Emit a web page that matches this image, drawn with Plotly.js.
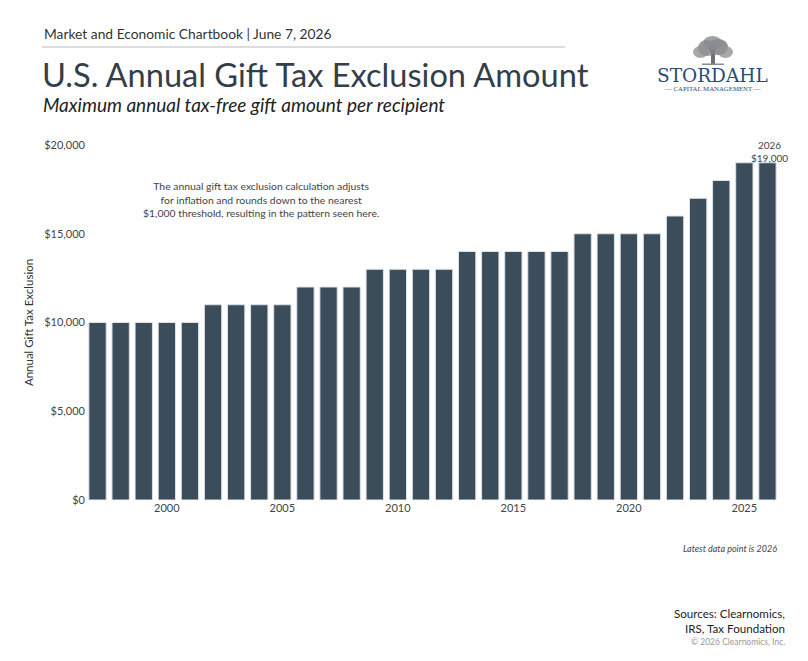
<!DOCTYPE html>
<html>
<head>
<meta charset="utf-8">
<script src="https://cdn.plot.ly/plotly-3.0.1.min.js"></script>
<style>html,body{margin:0;padding:0;background:#fff;}#chart{width:808px;height:661px;}</style>
</head>
<body>
<div id="chart"></div>
<script>
const years = [1997,1998,1999,2000,2001,2002,2003,2004,2005,2006,2007,2008,2009,2010,2011,2012,2013,2014,2015,2016,2017,2018,2019,2020,2021,2022,2023,2024,2025,2026];
const exclusion = [10000,10000,10000,10000,10000,11000,11000,11000,11000,12000,12000,12000,13000,13000,13000,13000,14000,14000,14000,14000,14000,15000,15000,15000,15000,16000,17000,18000,19000,19000];
const yTicks = [0,5000,10000,15000,20000];
const yTickLabels = ['$0','$5,000','$10,000','$15,000','$20,000'];
const xTicks = [2000,2005,2010,2015,2020,2025];

const W = 808, H = 661;
const L = 86, R = 779, T = 145, B = 500;
const px = x => (x - L) / (R - L);
const py = y => (B - y) / (B - T);
const FONT = 'Lato, "Source Sans Pro", "Noto Sans", sans-serif';

const trace = {
  type: 'bar',
  x: years,
  y: exclusion,
  marker: {color: '#3b4c5b', line: {color: '#dde2e7', width: 1}},
  hoverinfo: 'x+y'
};

function ann(text, x, y, opts) {
  return Object.assign({text: text, x: px(x), y: py(y), xref: 'paper', yref: 'paper', showarrow: false,
    xanchor: 'left', yanchor: 'middle', font: {family: FONT, size: 12, color: '#333'}}, opts || {});
}

const annotations = [
  ann('Market and Economic Chartbook | June 7, 2026', 42, 34, {font: {family: FONT, size: 13.8, color: '#333'}}),
  ann('U.S. Annual Gift Tax Exclusion Amount', 40, 74, {font: {family: FONT, size: 32.6, color: '#343e48', weight: 400}}),
  ann('<i>Maximum annual tax-free gift amount per recipient</i>', 41, 105, {font: {family: FONT, size: 19, color: '#222', weight: 400}}),
  ann('STORDAHL', 712, 75, {xanchor: 'center', font: {family: '"DejaVu Serif", "Liberation Serif", serif', size: 18.5, color: '#2c4a7c'}}),
  ann('— CAPITAL MANAGEMENT —', 712, 88, {xanchor: 'center', font: {family: '"Liberation Serif", serif', size: 6.8, color: '#2c4a7c'}}),
  ann('The annual gift tax exclusion calculation adjusts<br>for inflation and rounds down to the nearest<br>$1,000 threshold, resulting in the pattern seen here.', 261, 199, {xanchor: 'center', align: 'center', font: {family: FONT, size: 10.4, color: '#444'}}),
  ann('2026<br>$19,000', 769, 151, {xanchor: 'center', align: 'center', font: {family: FONT, size: 10, color: '#444'}}),
  ann('<i>Latest data point is 2026</i>', 779, 548, {xanchor: 'right', font: {family: FONT, size: 9, color: '#444'}}),
  ann('Sources: Clearnomics,', 787, 613, {xanchor: 'right', font: {family: FONT, size: 11.6, color: '#222'}}),
  ann('IRS, Tax Foundation', 787, 628, {xanchor: 'right', font: {family: FONT, size: 11.6, color: '#222'}}),
  ann('© 2026 Clearnomics, Inc.', 787, 642, {xanchor: 'right', font: {family: FONT, size: 8.5, color: '#999'}})
];

const shapes = [
  {type: 'line', xref: 'paper', yref: 'paper', x0: px(42), x1: px(565), y0: py(47), y1: py(47), line: {color: '#b5b9bd', width: 1}},
  // logo tree trunk
  {type: 'rect', xref: 'paper', yref: 'paper', x0: px(711), x1: px(715), y0: py(64), y1: py(50), fillcolor: '#6d6f72', line: {width: 0}},
  {type: 'rect', xref: 'paper', yref: 'paper', x0: px(702), x1: px(724), y0: py(65), y1: py(63.5), fillcolor: '#8a8c8f', line: {width: 0}},
  // crown
  {type: 'circle', xref: 'paper', yref: 'paper', x0: px(698), x1: px(716), y0: py(56), y1: py(40), fillcolor: '#85878a', opacity: 0.85, line: {width: 0}},
  {type: 'circle', xref: 'paper', yref: 'paper', x0: px(708), x1: px(728), y0: py(55), y1: py(39), fillcolor: '#7d7f82', opacity: 0.85, line: {width: 0}},
  {type: 'circle', xref: 'paper', yref: 'paper', x0: px(693), x1: px(708), y0: py(58), y1: py(46), fillcolor: '#909295', opacity: 0.8, line: {width: 0}},
  {type: 'circle', xref: 'paper', yref: 'paper', x0: px(718), x1: px(733), y0: py(58), y1: py(46), fillcolor: '#909295', opacity: 0.8, line: {width: 0}},
  {type: 'circle', xref: 'paper', yref: 'paper', x0: px(703), x1: px(722), y0: py(50), y1: py(36), fillcolor: '#8a8c8f', opacity: 0.8, line: {width: 0}}
];

const layout = {
  width: W, height: H,
  margin: {l: L, r: W - R, t: T, b: H - B, pad: 0},
  paper_bgcolor: '#fff', plot_bgcolor: '#fff',
  showlegend: false,
  bargap: 0.25,
  font: {family: FONT, color: '#444'},
  xaxis: {
    range: [1996.5, 2026.5], tickvals: xTicks, ticks: '', showgrid: false, zeroline: false, showline: false,
    tickfont: {family: FONT, size: 11, color: '#444'}
  },
  yaxis: {
    range: [0, 20000], tickmode: 'array', tickvals: yTicks, ticktext: yTickLabels, ticks: '', showgrid: false, zeroline: false, showline: false,
    tickfont: {family: FONT, size: 11, color: '#444'},
    title: {text: 'Annual Gift Tax Exclusion', font: {family: FONT, size: 11.5, color: '#333'}, standoff: 8}
  },
  annotations: annotations,
  shapes: shapes
};

Plotly.newPlot('chart', [trace], layout, {displayModeBar: false, staticPlot: true});
</script>
</body>
</html>
